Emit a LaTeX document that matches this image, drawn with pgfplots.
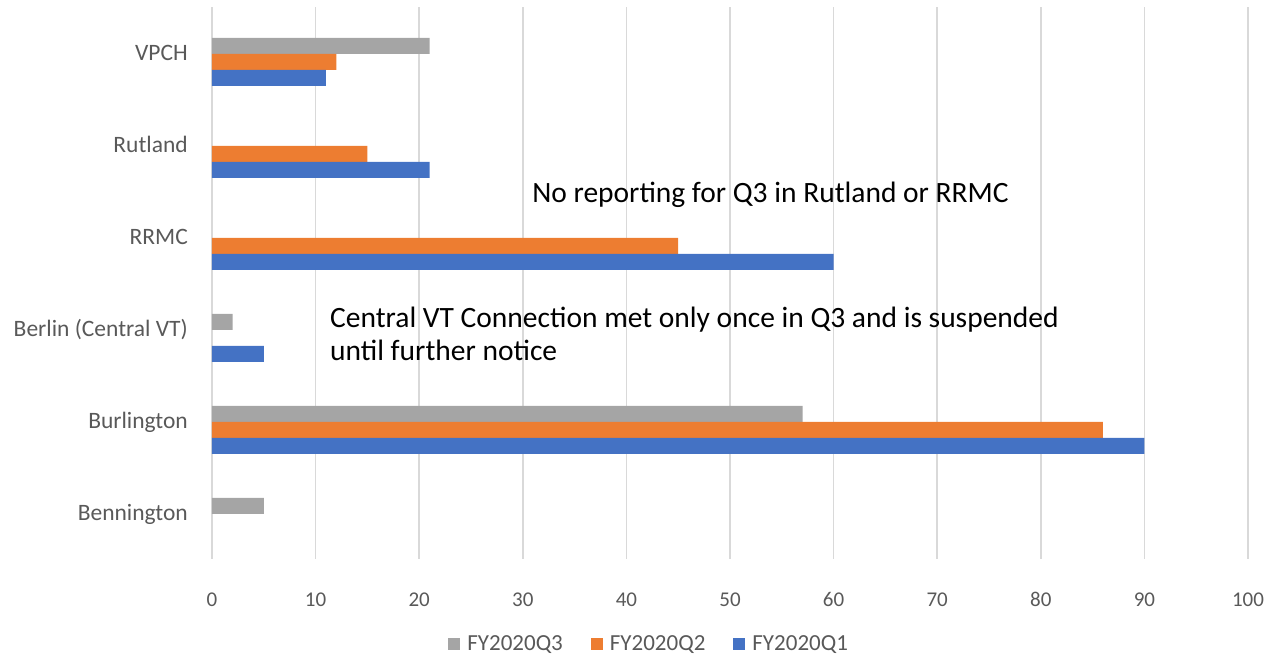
\documentclass[border=0pt]{standalone}
\usepackage{pgfplots}
\pgfplotsset{compat=1.18}
\usepackage{fontspec}
\setmainfont{Carlito}
\definecolor{cQ1}{HTML}{4472C4}
\definecolor{cQ2}{HTML}{ED7D31}
\definecolor{cQ3}{HTML}{A5A5A5}
\definecolor{txt}{HTML}{595959}
\definecolor{grd}{HTML}{D9D9D9}
\begin{document}
\begin{tikzpicture}
\begin{axis}[
  scale only axis,
  width=1036pt, height=552pt,
  xmin=0, xmax=100, ymin=-0.5, ymax=5.5,
  xbar, bar width=16pt,
  /pgf/number format/assume math mode=true,
  axis line style={draw=none},
  major tick length=0pt,
  xtick={0,10,...,100},
  ytick={0,1,2,3,4,5},
  yticklabels={Bennington,Burlington,Berlin (Central VT),RRMC,Rutland,VPCH},
  xmajorgrids, ymajorgrids=false,
  grid style={color=grd, line width=1.5pt},
  xticklabel style={font=\fontsize{21}{25}\selectfont, text=txt, anchor=base, inner sep=0pt, yshift=-47pt},
  yticklabel style={font=\fontsize{23.5}{28}\selectfont, text=txt, anchor=base east, inner sep=0pt, xshift=-24pt, yshift=-7.5pt},
  legend columns=3,
  legend style={draw=none, at={(axis description cs:0.421,-0.154)}, anchor=center,
    inner sep=0pt, font=\fontsize{23}{27}\selectfont, text=txt,
    nodes={inner sep=0pt}, column sep=7pt,
    /tikz/every even column/.append style={column sep=28pt}},
  legend image code/.code={\fill[#1] (0pt,-6pt) rectangle (12pt,6pt);},
]
\addplot[fill=cQ3, draw=none, bar shift=7pt] coordinates {(5,0) (57,1) (2,2) (21,5)};
\addplot[fill=cQ2, draw=none, bar shift=-9pt] coordinates {(86,1) (45,3) (15,4) (12,5)};
\addplot[fill=cQ1, draw=none, bar shift=-25pt] coordinates {(90,1) (5,2) (60,3) (21,4) (11,5)};
\legend{FY2020Q3,FY2020Q2,FY2020Q1}
\node[anchor=base west, inner sep=0pt, font=\fontsize{29.5}{33}\selectfont] at (axis cs:30.9,3.370) {No reporting for Q3 in Rutland or RRMC};
\node[anchor=base west, inner sep=0pt, font=\fontsize{29.5}{33}\selectfont] at (axis cs:11.39,2.011) {Central VT Connection met only once in Q3 and is suspended};
\node[anchor=base west, inner sep=0pt, font=\fontsize{29.5}{33}\selectfont] at (axis cs:11.39,1.663) {until further notice};
\end{axis}
\path (current axis.south west) ++(-212pt,-99pt) rectangle ++(1282pt,658pt);
\end{tikzpicture}
\end{document}
